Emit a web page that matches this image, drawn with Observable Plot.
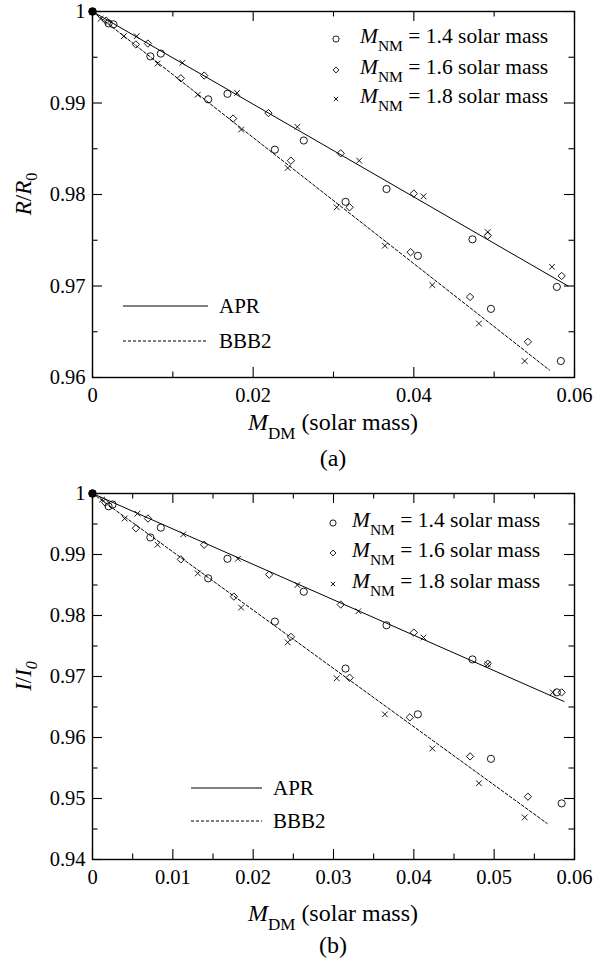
<!DOCTYPE html>
<html><head><meta charset="utf-8">
<script src="https://cdn.jsdelivr.net/npm/d3@7"></script>
<script src="https://cdn.jsdelivr.net/npm/@observablehq/plot@0.6"></script>
<style>
body{margin:0;background:#fff;}
#chart{width:595px;}
#chart svg{display:block;font-family:"Liberation Serif",serif !important;}
#chart svg text{font-family:"Liberation Serif",serif !important;}
</style></head><body><div id="chart"></div>
<script>
// ---------- Panel (a): R/R0 ----------
const aOrigin = [[0, 1]];
const a14 = [[0,1],[0.0020,0.9987],[0.0026,0.9986],
  [0.0085,0.9954],[0.0168,0.9910],[0.0263,0.9859],[0.0366,0.9806],[0.0473,0.9751],[0.0578,0.9699],
  [0.0072,0.9951],[0.0144,0.9904],[0.0227,0.9849],[0.0315,0.9792],[0.0405,0.9733],[0.0496,0.9675],[0.0583,0.9618]];
const a16 = [[0,1],[0.0017,0.9990],
  [0.0069,0.9965],[0.0139,0.9930],[0.0219,0.9889],[0.0309,0.9845],[0.0400,0.9801],[0.0492,0.9755],[0.0584,0.9711],
  [0.0054,0.9964],[0.0110,0.9927],[0.0175,0.9883],[0.0247,0.9837],[0.0320,0.9786],[0.0396,0.9737],[0.0470,0.9688],[0.0542,0.9639]];
const a18 = [[0,1],[0.0010,0.9992],
  [0.0055,0.9973],[0.0112,0.9944],[0.0180,0.9911],[0.0255,0.9874],[0.0332,0.9837],[0.0412,0.9798],[0.0492,0.9759],[0.0572,0.9721],
  [0.0039,0.9973],[0.0081,0.9943],[0.0131,0.9909],[0.0185,0.9871],[0.0243,0.9829],[0.0304,0.9786],[0.0364,0.9744],[0.0423,0.9701],[0.0481,0.9659],[0.0538,0.9618]];
const aAPR = [[0, 1], [0.0592, 0.9700]];
const aBBB2 = [[0, 1], [0.0569, 0.9608]];
const aXMajor = [0, 0.02, 0.04, 0.06];
const aXLabels = ["0", "0.02", "0.04", "0.06"];
const aXMinor = [0.01, 0.03, 0.05];
const aYMajor = [0.96, 0.97, 0.98, 0.99, 1];
const aYLabels = ["0.96", "0.97", "0.98", "0.99", "1"];
const aYMinor = [0.965, 0.975, 0.985, 0.995];

// ---------- Panel (b): I/I0 ----------
const bOrigin = [[0, 1]];
const b14 = [[0,1],[0.0020,0.9979],[0.0025,0.9982],
  [0.0085,0.9944],[0.0168,0.9893],[0.0263,0.9839],[0.0366,0.9784],[0.0473,0.9728],[0.0578,0.9674],
  [0.0072,0.9928],[0.0144,0.9861],[0.0227,0.9790],[0.0315,0.9713],[0.0405,0.9638],[0.0496,0.9565],[0.0584,0.9492]];
const b16 = [[0,1],[0.0016,0.9985],
  [0.0069,0.9959],[0.0139,0.9916],[0.0220,0.9867],[0.0309,0.9818],[0.0400,0.9772],[0.0492,0.9721],[0.0584,0.9674],
  [0.0054,0.9943],[0.0110,0.9892],[0.0176,0.9831],[0.0247,0.9765],[0.0320,0.9698],[0.0395,0.9633],[0.0470,0.9569],[0.0542,0.9503]];
const b18 = [[0,1],[0.0012,0.9990],
  [0.0056,0.9967],[0.0113,0.9933],[0.0181,0.9893],[0.0255,0.9850],[0.0331,0.9807],[0.0412,0.9764],[0.0492,0.9720],[0.0573,0.9674],
  [0.0040,0.9959],[0.0081,0.9916],[0.0131,0.9869],[0.0185,0.9813],[0.0243,0.9756],[0.0304,0.9697],[0.0364,0.9638],[0.0423,0.9582],[0.0481,0.9525],[0.0538,0.9469]];
const bAPR = [[0, 1], [0.0587, 0.9659]];
const bBBB2 = [[0, 1], [0.0566, 0.9459]];
const bXMajor = [0, 0.01, 0.02, 0.03, 0.04, 0.05, 0.06];
const bXLabels = ["0", "0.01", "0.02", "0.03", "0.04", "0.05", "0.06"];
const bXMinor = [0.005, 0.015, 0.025, 0.035, 0.045, 0.055];
const bYMajor = [0.94, 0.95, 0.96, 0.97, 0.98, 0.99, 1];
const bYLabels = ["0.94", "0.95", "0.96", "0.97", "0.98", "0.99", "1"];
const bYMinor = [0.945, 0.955, 0.965, 0.975, 0.985, 0.995];

const seriesNames = ["1.4", "1.6", "1.8"];
const lineNames = ["APR", "BBB2"];

const FONT = "Liberation Serif";
const W = 595, ML = 92, MR = 21;

function panel(cfg) {
  const plotH = cfg.height - cfg.marginTop - cfg.marginBottom;
  const plotW = W - ML - MR;
  const MAJ = 10, MIN = 5.5, TW = 1.1;
  const px = d => d[0], py = d => d[1];
  const svg = Plot.plot({
    width: W, height: cfg.height,
    marginLeft: ML, marginRight: MR, marginTop: cfg.marginTop, marginBottom: cfg.marginBottom,
    x: {domain: [0, 0.06]},
    y: {domain: cfg.yDomain},
    style: {fontFamily: FONT, fontSize: "20.5px", color: "black", background: "white"},
    marks: [
      Plot.tickX(cfg.xMajor, {x: d => d, insetTop: plotH - MAJ, stroke: "black", strokeWidth: TW}),
      Plot.tickX(cfg.xMajor, {x: d => d, insetBottom: plotH - MAJ, stroke: "black", strokeWidth: TW}),
      Plot.tickX(cfg.xMinor, {x: d => d, insetTop: plotH - MIN, stroke: "black", strokeWidth: TW}),
      Plot.tickX(cfg.xMinor, {x: d => d, insetBottom: plotH - MIN, stroke: "black", strokeWidth: TW}),
      Plot.tickY(cfg.yMajor, {y: d => d, insetRight: plotW - MAJ, stroke: "black", strokeWidth: TW}),
      Plot.tickY(cfg.yMajor, {y: d => d, insetLeft: plotW - MAJ, stroke: "black", strokeWidth: TW}),
      Plot.tickY(cfg.yMinor, {y: d => d, insetRight: plotW - MIN, stroke: "black", strokeWidth: TW}),
      Plot.tickY(cfg.yMinor, {y: d => d, insetLeft: plotW - MIN, stroke: "black", strokeWidth: TW}),
      Plot.axisX({anchor: "bottom", ticks: cfg.xMajor, tickSize: 0, tickPadding: 9.5,
        tickFormat: (d, i) => cfg.xLabels[i], label: null, fill: "black", fontSize: 20.5}),
      Plot.axisY({anchor: "left", ticks: cfg.yMajor, tickSize: 0, tickPadding: 7,
        tickFormat: (d, i) => cfg.yLabels[i], label: null, fill: "black", fontSize: 20.5}),
      Plot.line(cfg.apr, {x: px, y: py, stroke: "black", strokeWidth: 1}),
      Plot.line(cfg.bbb2, {x: px, y: py, stroke: "black", strokeWidth: 1, strokeDasharray: "3,2"}),
      Plot.dot(cfg.s14, {x: px, y: py, symbol: "circle", r: 3.6, stroke: "black", fill: "none", strokeWidth: 0.9}),
      Plot.dot(cfg.s16, {x: px, y: py, symbol: "diamond2", r: 3.3, stroke: "black", fill: "none", strokeWidth: 0.9}),
      Plot.dot(cfg.s18, {x: px, y: py, symbol: "times", r: 2.7, stroke: "black", fill: "none", strokeWidth: 0.9}),
      Plot.dot(cfg.origin, {x: px, y: py, symbol: "circle", r: 4, fill: "black", stroke: "none"}),
      Plot.frame({stroke: "black", strokeWidth: 1.4})
    ]
  });
  svg.setAttribute("font-family", FONT);
  svg.style.fontFamily = `"${FONT}", serif`;
  const s = d3.select(svg);
  const txt = (size) => s.append("text").attr("font-family", FONT).attr("font-size", size).attr("fill", "black");
  // y label
  const yl = txt(23)
    .attr("transform", `translate(${cfg.ylabX},${cfg.marginTop + plotH / 2}) rotate(-90)`)
    .attr("text-anchor", "middle");
  yl.append("tspan").attr("font-style", "italic").text(cfg.ylab);
  yl.append("tspan").text("/");
  yl.append("tspan").attr("font-style", "italic").text(cfg.ylab);
  yl.append("tspan").attr("font-size", 16).attr("dy", 6).attr("font-style", cfg.subItalic ? "italic" : "normal").text("0");
  // x label
  const xl = txt(24).attr("x", ML + plotW / 2).attr("y", cfg.xlabY).attr("text-anchor", "middle");
  xl.append("tspan").attr("font-style", "italic").text("M");
  xl.append("tspan").attr("font-size", 17).attr("dy", 9).text("DM");
  xl.append("tspan").attr("dy", -9).text(" (solar mass)");
  // panel tag
  txt(24).attr("x", ML + plotW / 2).attr("y", cfg.tagY).attr("text-anchor", "middle").text(cfg.tag);
  // symbol legend
  const syms = [d3.symbolCircle, d3.symbolDiamond2, d3.symbolTimes];
  const symSize = [30, 22, 14];
  seriesNames.forEach((n, i) => {
    const ys = cfg.legRowY[i];
    s.append("path").attr("d", d3.symbol(syms[i], symSize[i])())
      .attr("transform", `translate(${cfg.legSymX},${ys - 4})`)
      .attr("fill", "none").attr("stroke", "black").attr("stroke-width", 0.9);
    const t = txt(21.5).attr("x", cfg.legTextX).attr("y", ys).attr("text-anchor", "start");
    t.append("tspan").attr("font-style", "italic").text("M");
    t.append("tspan").attr("font-size", 15.5).attr("dy", 8).text("NM");
    t.append("tspan").attr("dy", -8).text(` = ${n} solar mass`);
  });
  // line legend
  lineNames.forEach((n, i) => {
    const yy = cfg.lineLegY[i];
    s.append("line").attr("x1", cfg.lineLegX[0]).attr("x2", cfg.lineLegX[1])
      .attr("y1", yy).attr("y2", yy).attr("stroke", "black").attr("stroke-width", 1)
      .attr("stroke-dasharray", i === 1 ? "3,2" : null);
    txt(21).attr("x", cfg.lineLegX[1] + 11).attr("y", yy + 7).attr("text-anchor", "start").text(n);
  });
  return svg;
}

const chart = document.getElementById("chart");
chart.appendChild(panel({
  height: 475, marginTop: 11, marginBottom: 98, yDomain: [0.96, 1],
  xMajor: aXMajor, xLabels: aXLabels, xMinor: aXMinor,
  yMajor: aYMajor, yLabels: aYLabels, yMinor: aYMinor,
  s14: a14, s16: a16, s18: a18, origin: aOrigin, apr: aAPR, bbb2: aBBB2,
  ylab: "R", subItalic: false, ylabX: 31, xlabY: 430, tagY: 466, tag: "(a)",
  legSymX: 336, legTextX: 360, legRowY: [43, 74, 103],
  lineLegX: [123, 208], lineLegY: [306, 341]
}));
chart.appendChild(panel({
  height: 485, marginTop: 18, marginBottom: 101, yDomain: [0.94, 1],
  xMajor: bXMajor, xLabels: bXLabels, xMinor: bXMinor,
  yMajor: bYMajor, yLabels: bYLabels, yMinor: bYMinor,
  s14: b14, s16: b16, s18: b18, origin: bOrigin, apr: bAPR, bbb2: bBBB2,
  ylab: "I", subItalic: true, ylabX: 31, xlabY: 446, tagY: 478, tag: "(b)",
  legSymX: 333, legTextX: 352, legRowY: [52, 82, 113],
  lineLegX: [191, 262], lineLegY: [313, 346]
}));
</script></body></html>
